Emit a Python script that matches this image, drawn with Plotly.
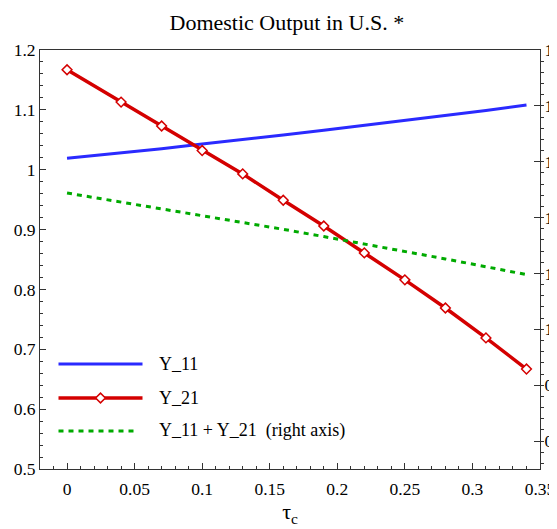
import plotly.graph_objects as go

tau = [0, 0.04, 0.07, 0.10, 0.13, 0.16, 0.19, 0.22, 0.25, 0.28, 0.31, 0.34]
y11 = [1.019, 1.028, 1.035, 1.043, 1.050, 1.058, 1.066, 1.074, 1.082, 1.090, 1.099, 1.108]
y21 = [1.167, 1.113, 1.073, 1.032, 0.993, 0.949, 0.906, 0.861, 0.816, 0.769, 0.719, 0.667]
ysum = [1.244, 1.228, 1.216, 1.204, 1.191, 1.179, 1.166, 1.153, 1.139, 1.126, 1.112, 1.098]

names = ["Y_11", "Y_21", "Y_11 + Y_21  (right axis)"]
left_ticks = [0.5, 0.6, 0.7, 0.8, 0.9, 1.0, 1.1, 1.2]
left_ticktext = ["0.5", "0.6", "0.7", "0.8", "0.9", "1", "1.1", "1.2"]
x_ticks = [0, 0.05, 0.1, 0.15, 0.2, 0.25, 0.3, 0.35]
x_ticktext = ["0", "0.05", "0.1", "0.15", "0.2", "0.25", "0.3", "0.35"]

BLUE = "#2a2aff"
RED = "#d40000"
GREEN = "#00aa00"
FONT = "Liberation Serif, Times New Roman, serif"
AX = "#333333"
TICKFONT = dict(family=FONT, size=17.5, color="black")

fig = go.Figure()
fig.add_trace(go.Scatter(x=tau, y=y11, mode="lines", line=dict(color=BLUE, width=3), showlegend=False))
fig.add_trace(go.Scatter(x=tau, y=ysum, mode="lines", yaxis="y2",
                         line=dict(color=GREEN, width=3, dash="5px,5px"), showlegend=False))
fig.add_trace(go.Scatter(x=tau, y=y21, mode="lines+markers", line=dict(color=RED, width=3.5),
                         marker=dict(symbol="diamond", size=7.5, color="white", line=dict(color=RED, width=1.5)),
                         showlegend=False))

# custom legend samples (drawn on a helper axis spanning the plot area)
leg_y = [0.2506, 0.1694, 0.0907]
fig.add_trace(go.Scatter(x=[0.037, 0.205], y=[leg_y[0]] * 2, xaxis="x3", yaxis="y3", mode="lines",
                         line=dict(color=BLUE, width=3), showlegend=False, hoverinfo="skip"))
fig.add_trace(go.Scatter(x=[0.037, 0.205], y=[leg_y[1]] * 2, xaxis="x3", yaxis="y3", mode="lines",
                         line=dict(color=RED, width=3.5), showlegend=False, hoverinfo="skip"))
fig.add_trace(go.Scatter(x=[0.121], y=[leg_y[1]], xaxis="x3", yaxis="y3", mode="markers",
                         marker=dict(symbol="diamond", size=7.5, color="white", line=dict(color=RED, width=1.5)),
                         showlegend=False, hoverinfo="skip"))
fig.add_trace(go.Scatter(x=[0.037, 0.197], y=[leg_y[2]] * 2, xaxis="x3", yaxis="y3", mode="lines",
                         line=dict(color=GREEN, width=3, dash="5px,5px"), showlegend=False, hoverinfo="skip"))
for nm, yy in zip(names, leg_y):
    fig.add_annotation(x=0.233, y=yy, xref="paper", yref="paper", text=nm, showarrow=False,
                       xanchor="left", yanchor="middle", font=dict(family=FONT, size=18, color="black"))

fig.update_layout(
    width=549, height=521,
    margin=dict(l=32, r=17, t=42, b=60, autoexpand=False),
    paper_bgcolor="white", plot_bgcolor="white",
    font=dict(family=FONT, size=17, color="black"),
    title=dict(text="Domestic Output in U.S. *", x=0.508, xanchor="center", y=0.973, yanchor="middle",
               font=dict(family=FONT, size=22, color="black")),
    xaxis=dict(range=[-0.02, 0.35], tickvals=x_ticks, ticktext=x_ticktext, showgrid=False, zeroline=False,
               showline=True, linecolor=AX, linewidth=1, mirror=True, automargin=False,
               ticks="inside", ticklen=6, tickcolor=AX, tickfont=TICKFONT, ticklabelstandoff=4,
               minor=dict(dtick=0.01, tick0=0, ticks="inside", ticklen=3, tickcolor=AX, showgrid=False),
               title=dict(text="τ<sub>c</sub>", font=dict(family=FONT, size=22), standoff=2)),
    yaxis=dict(range=[0.5, 1.2], tickvals=left_ticks, ticktext=left_ticktext, showgrid=False, zeroline=False,
               showline=True, linecolor=AX, linewidth=1, mirror=True, automargin=False,
               ticks="inside", ticklen=6, tickcolor=AX, tickfont=TICKFONT,
               minor=dict(dtick=0.02, tick0=0.5, ticks="inside", ticklen=3, tickcolor=AX, showgrid=False)),
    yaxis2=dict(range=[0.75, 1.5], overlaying="y", side="right", dtick=0.1, tick0=0.8,
                showgrid=False, zeroline=False, showline=True, linecolor=AX, linewidth=1, automargin=False,
                ticks="inside", ticklen=6, tickcolor=AX, tickfont=TICKFONT,
                minor=dict(dtick=0.02, tick0=0.8, ticks="outside", ticklen=3, tickcolor=AX, showgrid=False)),
    xaxis3=dict(range=[0, 1], overlaying="x", visible=False, fixedrange=True),
    yaxis3=dict(range=[0, 1], overlaying="y", visible=False, fixedrange=True),
)

fig.write_html("out.html")
